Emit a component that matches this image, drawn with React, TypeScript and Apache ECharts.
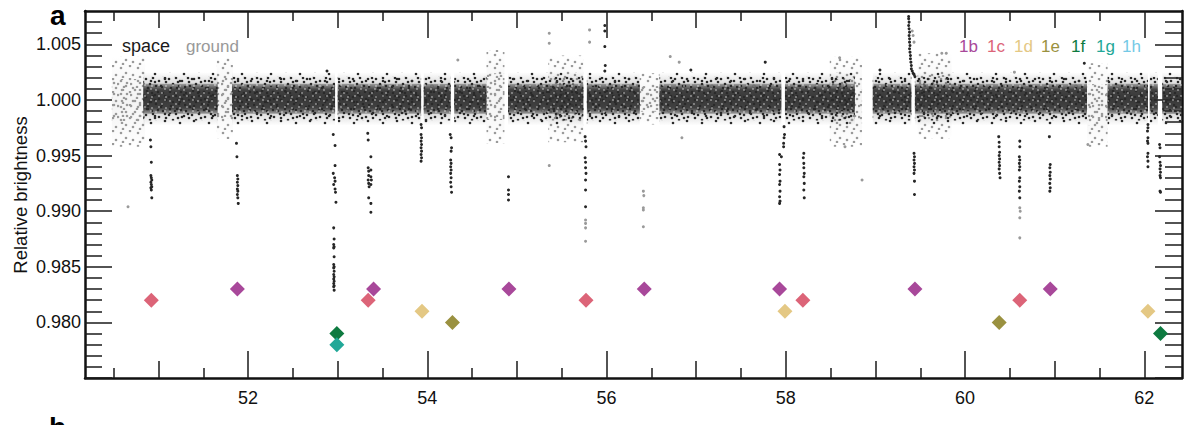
import React, { useEffect, useRef } from "react";
import * as echarts from "echarts";

// ---- axis ranges & ticks ----
const X_MIN = 50.18;
const X_MAX = 62.42;
const Y_MIN = 0.975;
const Y_MAX = 1.008;
const xLabelTicks = [52, 54, 56, 58, 60, 62];
const xMidTicks = [51, 53, 55, 57, 59, 61];
const xMinorTicks = [50.5, 51.5, 52.5, 53.5, 54.5, 55.5, 56.5, 57.5, 58.5, 59.5, 60.5, 61.5];
const yLabelTicks = [0.98, 0.985, 0.99, 0.995, 1.0, 1.005];
const yMajorTicks = [0.975, 0.98, 0.985, 0.99, 0.995, 1.0, 1.005];
const yMinorTicks = [
  0.976, 0.977, 0.978, 0.979, 0.981, 0.982, 0.983, 0.984, 0.986, 0.987, 0.988, 0.989,
  0.991, 0.992, 0.993, 0.994, 0.996, 0.997, 0.998, 0.999, 1.001, 1.002, 1.003, 1.004,
  1.006, 1.007,
];

// ---- space light-curve: time spans [xStart, xEnd] and brightness spread levels ----
const spaceSpans = [
  [50.83, 51.66], [51.82, 52.97], [53.0, 53.93], [53.96, 54.26], [54.3, 54.66],
  [54.9, 55.74], [55.78, 56.37], [56.59, 57.95], [57.99, 58.77], [58.97, 59.4],
  [59.44, 61.36], [61.59, 62.04], [62.06, 62.15], [62.2, 62.42],
];
const spaceSpreadOuter = [0.9977, 1.0025];
const spaceSpreadMid = [0.99815, 1.0021];
const spaceSpreadCore = [0.99875, 1.00145];

// ---- ground light-curve: [xStart, xEnd, low, high] ----
const groundSegments = [
  [50.48, 50.85, 0.9958, 1.0039],
  [51.65, 51.83, 0.9965, 1.0038],
  [54.66, 54.86, 0.9961, 1.0045],
  [55.35, 55.74, 0.9962, 1.004],
  [56.37, 56.59, 0.9978, 1.0024],
  [58.49, 58.85, 0.9958, 1.0039],
  [59.47, 59.85, 0.9965, 1.0042],
  [61.36, 61.59, 0.9958, 1.0033],
];

// ---- transit / flare points (space) ----
const dipB1 = [[50.91, 0.9964], [50.915, 0.9958], [50.92, 0.9944], [50.915, 0.9932], [50.92, 0.993], [50.925, 0.9928], [50.915, 0.9926], [50.92, 0.9924], [50.925, 0.9922], [50.915, 0.9921], [50.92, 0.9919], [50.925, 0.9912]];
const dipB2 = [[51.87, 0.9961], [51.875, 0.9949], [51.88, 0.9932], [51.885, 0.9929], [51.88, 0.9926], [51.885, 0.9923], [51.88, 0.992], [51.885, 0.9918], [51.88, 0.9915], [51.885, 0.9912], [51.89, 0.9907]];
const dipFG = [[52.95, 0.9969], [52.97, 0.9959], [52.97, 0.9941], [52.95, 0.9934], [52.965, 0.993], [52.97, 0.9927], [52.955, 0.9924], [52.97, 0.992], [52.975, 0.9917], [52.98, 0.9908], [52.955, 0.9885], [52.96, 0.9875], [52.955, 0.987], [52.96, 0.9868], [52.955, 0.9867], [52.96, 0.9859], [52.955, 0.9852], [52.96, 0.985], [52.955, 0.9849], [52.96, 0.9846], [52.955, 0.9843], [52.96, 0.9841], [52.955, 0.9839], [52.96, 0.9837], [52.955, 0.9835], [52.96, 0.9833], [52.955, 0.9832], [52.96, 0.9829]];
const dipBC = [[53.335, 0.997], [53.34, 0.9964], [53.37, 0.9949], [53.34, 0.9939], [53.345, 0.9936], [53.37, 0.9937], [53.345, 0.9932], [53.37, 0.9931], [53.34, 0.9928], [53.375, 0.9928], [53.345, 0.9925], [53.37, 0.9924], [53.35, 0.9922], [53.345, 0.9912], [53.37, 0.9907], [53.37, 0.9899]];
const dipD1 = [[53.93, 0.9978], [53.935, 0.9975], [53.93, 0.9969], [53.935, 0.9966], [53.93, 0.9963], [53.935, 0.996], [53.93, 0.9957], [53.935, 0.9954], [53.93, 0.9951], [53.935, 0.9948], [53.93, 0.9945]];
const dipE1 = [[54.255, 0.9969], [54.265, 0.9966], [54.27, 0.9957], [54.265, 0.9954], [54.26, 0.9946], [54.265, 0.9943], [54.26, 0.994], [54.265, 0.9937], [54.26, 0.9934], [54.265, 0.993], [54.26, 0.9926], [54.265, 0.9922], [54.27, 0.9917]];
const dipB3 = [[54.905, 0.9931], [54.905, 0.9919], [54.905, 0.9915], [54.905, 0.991]];
const dipC3 = [[55.76, 0.9967], [55.765, 0.9963], [55.77, 0.9958], [55.76, 0.9948], [55.765, 0.9944], [55.765, 0.9939], [55.77, 0.9934], [55.765, 0.9928], [55.765, 0.9919], [55.765, 0.9904]];
const dipBD = [[57.98, 0.9976], [57.985, 0.9969], [57.98, 0.9966], [57.975, 0.9961], [57.975, 0.9958], [57.93, 0.9951], [57.95, 0.9949], [57.93, 0.9942], [57.935, 0.9937], [57.93, 0.9933], [57.935, 0.9927], [57.93, 0.9924], [57.935, 0.9918], [57.93, 0.9913], [57.935, 0.9909], [57.93, 0.9907]];
const dipC4 = [[58.2, 0.9952], [58.195, 0.9948], [58.2, 0.9943], [58.2, 0.9939], [58.205, 0.9934], [58.2, 0.9931], [58.205, 0.9925], [58.2, 0.9919], [58.205, 0.9912]];
const flare = [[59.37, 1.0075], [59.37, 1.0073], [59.375, 1.007], [59.37, 1.0067], [59.375, 1.0064], [59.38, 1.0061], [59.375, 1.0058], [59.38, 1.0055], [59.38, 1.0052], [59.385, 1.0049], [59.38, 1.0046], [59.385, 1.0043], [59.39, 1.004], [59.39, 1.0037], [59.395, 1.0034], [59.4, 1.0031], [59.4, 1.0028], [59.41, 1.0026], [59.42, 1.0024], [59.43, 1.0023], [59.44, 1.0021]];
const dipB6 = [[59.43, 0.9952], [59.435, 0.9949], [59.43, 0.9946], [59.435, 0.9943], [59.43, 0.994], [59.435, 0.9937], [59.43, 0.9934], [59.435, 0.9927], [59.435, 0.9915]];
const dipE2 = [[60.375, 0.9967], [60.38, 0.9962], [60.38, 0.9958], [60.385, 0.9953], [60.38, 0.995], [60.385, 0.9947], [60.38, 0.9944], [60.385, 0.9941], [60.38, 0.9938], [60.385, 0.9934], [60.39, 0.993]];
const dipC5 = [[60.61, 0.9963], [60.61, 0.9958], [60.605, 0.9949], [60.61, 0.9946], [60.605, 0.9943], [60.61, 0.994], [60.605, 0.9937], [60.61, 0.993], [60.605, 0.9927], [60.61, 0.9922], [60.605, 0.9918], [60.61, 0.9912]];
const dipB7 = [[60.94, 0.9967], [60.95, 0.9942], [60.945, 0.9939], [60.95, 0.9935], [60.945, 0.9932], [60.95, 0.9929], [60.945, 0.9925], [60.95, 0.9921], [60.945, 0.9918]];
const dipD3 = [[62.04, 0.9978], [62.04, 0.9975], [62.035, 0.9972], [62.04, 0.9966], [62.035, 0.9963], [62.04, 0.9961], [62.04, 0.9952], [62.035, 0.9949], [62.04, 0.9945], [62.04, 0.994]];
const dipF2 = [[62.17, 0.996], [62.175, 0.9957], [62.17, 0.9949], [62.175, 0.9944], [62.18, 0.9941], [62.175, 0.9938], [62.18, 0.9935], [62.175, 0.9932], [62.18, 0.993], [62.175, 0.9918], [62.18, 0.9917]];
const spaceOutliers = [[55.98, 1.0067], [55.98, 1.0062], [55.98, 1.0048], [55.985, 1.0031], [55.98, 1.0026], [57.77, 1.0034], [56.94, 1.0027], [61.33, 1.0033], [52.88, 1.0026], [59.05, 1.0027]];

// ---- ground points outside the envelope ----
const groundPoints = [
  [55.765, 0.9892], [55.765, 0.9889], [55.765, 0.9885], [55.765, 0.9873],
  [56.41, 0.9918], [56.415, 0.9914], [56.41, 0.9903], [56.41, 0.9901], [56.41, 0.9886],
  [60.61, 0.9903], [60.615, 0.99], [60.61, 0.9894], [60.61, 0.9876],
  [50.66, 0.9904], [55.36, 0.9941], [55.36, 1.006], [55.36, 1.0051], [55.81, 1.0063], [55.81, 1.0052],
  [54.34, 1.0036], [58.85, 0.9928], [56.71, 1.0039], [56.81, 1.0034], [56.84, 0.9966], [58.6, 1.0038],
  [58.66, 0.9958], [59.74, 1.0042], [59.79, 1.0042], [60.55, 1.0025], [61.37, 0.996],
  [59.41, 1.0062], [59.42, 1.0058], [59.43, 1.0052],
];

// ---- planet transit markers ----
const planetNames = ["1b", "1c", "1d", "1e", "1f", "1g", "1h"];
const planetColors = ["#a8489a", "#dc6478", "#e4c884", "#9a9140", "#0e7a40", "#22a898", "#74c9e6"];
const transits1b = [[51.88, 0.983], [53.4, 0.983], [54.91, 0.983], [56.42, 0.983], [57.93, 0.983], [59.44, 0.983], [60.95, 0.983]];
const transits1c = [[50.92, 0.982], [53.34, 0.982], [55.77, 0.982], [58.19, 0.982], [60.61, 0.982]];
const transits1d = [[53.94, 0.981], [57.99, 0.981], [62.04, 0.981]];
const transits1e = [[54.28, 0.98], [60.38, 0.98]];
const transits1f = [[52.99, 0.979], [62.18, 0.979]];
const transits1g = [[52.99, 0.978]];
const transits1h: number[][] = [];
const planetTransits = [transits1b, transits1c, transits1d, transits1e, transits1f, transits1g, transits1h];
const planetLegendX = [959, 987, 1014, 1041, 1071, 1096, 1122];

const FONT = "'Liberation Sans', Arial, Helvetica, sans-serif";
const TICK = { color: "#1a1a1a", width: 1.5 };
const FRAME = { color: "#111", width: 2.5 };

function xAxisDef(position: string, ticks: number[], length: number, labels: boolean, line: boolean) {
  return {
    type: "value",
    position,
    min: X_MIN,
    max: X_MAX,
    axisLine: { show: line, lineStyle: FRAME, onZero: false },
    axisTick: { show: true, inside: true, length, customValues: ticks, lineStyle: TICK },
    axisLabel: labels
      ? { show: true, customValues: ticks, formatter: (v: number) => String(Math.round(v)), fontSize: 18, color: "#111", fontFamily: FONT, margin: 11 }
      : { show: false },
    splitLine: { show: false },
  };
}
function yAxisDef(position: string, ticks: number[], length: number, labels: boolean, line: boolean) {
  return {
    type: "value",
    position,
    min: Y_MIN,
    max: Y_MAX,
    axisLine: { show: line, lineStyle: FRAME, onZero: false },
    axisTick: { show: true, inside: true, length, customValues: ticks, lineStyle: TICK },
    axisLabel: labels
      ? { show: true, customValues: yLabelTicks, formatter: (v: number) => v.toFixed(3), fontSize: 18, color: "#111", fontFamily: FONT, margin: 4 }
      : { show: false },
    splitLine: { show: false },
  };
}

// texture tiles for the scattered-dot look (styling only)
function dotPattern(w: number, h: number, dots: number[][], color: string, r: number) {
  const circles = dots.map(([x, y]) => `<circle cx='${x}' cy='${y}' r='${r}' fill='${color}'/>`).join("");
  const svg = `<svg xmlns='http://www.w3.org/2000/svg' width='${w}' height='${h}'>${circles}</svg>`;
  return {
    image: "data:image/svg+xml;charset=utf-8," + encodeURIComponent(svg),
    repeat: "repeat",
    imageWidth: w,
    imageHeight: h,
  };
}
const DENSE_TILE = [[2, 3], [9, 1], [15, 6], [20, 2], [5, 10], [12, 12], [18, 14], [1, 15], [8, 7], [21, 9], [14, 3], [10, 16], [4, 6], [17, 10]];
const SPARSE_TILE = [[3, 4], [16, 2], [10, 11], [25, 8], [20, 16], [6, 18]];
const SPECK_TILE = [[2, 2], [8, 5], [5, 8], [11, 1], [12, 9]];

function fade(rgb: string, a: number) {
  return new echarts.graphic.LinearGradient(0, 0, 0, 1, [
    { offset: 0, color: `rgba(${rgb},0)` },
    { offset: 0.25, color: `rgba(${rgb},${a * 0.6})` },
    { offset: 0.5, color: `rgba(${rgb},${a})` },
    { offset: 0.75, color: `rgba(${rgb},${a * 0.6})` },
    { offset: 1, color: `rgba(${rgb},0)` },
  ]);
}
function coreFill() {
  return new echarts.graphic.LinearGradient(0, 0, 0, 1, [
    { offset: 0, color: "rgba(42,42,42,0.35)" },
    { offset: 0.2, color: "rgba(42,42,42,0.86)" },
    { offset: 0.5, color: "rgba(42,42,42,0.9)" },
    { offset: 0.8, color: "rgba(42,42,42,0.86)" },
    { offset: 1, color: "rgba(42,42,42,0.35)" },
  ]);
}

export default function App() {
  const ref = useRef<HTMLDivElement>(null);
  useEffect(() => {
    if (!ref.current) return;
    const chart = echarts.init(ref.current, null, { renderer: "svg" });
    const spacePts = [
      ...dipB1, ...dipB2, ...dipFG, ...dipBC, ...dipD1, ...dipE1, ...dipB3, ...dipC3, ...dipBD,
      ...dipC4, ...flare, ...dipB6, ...dipE2, ...dipC5, ...dipB7, ...dipD3, ...dipF2, ...spaceOutliers,
    ];
    const densePat = dotPattern(23, 18, DENSE_TILE, "#2a2a2a", 1.3);
    const sparsePat = dotPattern(29, 21, SPARSE_TILE, "#2a2a2a", 1.3);
    const speckPat = dotPattern(14, 11, SPECK_TILE, "rgba(255,255,255,0.5)", 0.9);
    const greyPat = dotPattern(17, 13, [[2, 3], [11, 1], [7, 8], [14, 10], [4, 12]], "#9a9a9a", 1.3);
    const greyPat2 = dotPattern(13, 11, [[5, 2], [1, 7], [10, 6], [7, 10]], "#9a9a9a", 1.3);

    const planetSeries = planetNames.map((name, i) => ({
      type: "scatter",
      name,
      symbol: "diamond",
      symbolSize: 15,
      z: 5,
      itemStyle: { color: planetColors[i], opacity: 1 },
      data: planetTransits[i],
    }));
    const legendTexts = planetNames.map((name, i) => ({
      type: "text",
      x: planetLegendX[i],
      y: 46.6,
      style: { text: name, fill: planetColors[i], font: `17px ${FONT}`, textAlign: "left", textVerticalAlign: "middle" },
    }));

    chart.setOption({
      animation: false,
      backgroundColor: "#fff",
      grid: { left: 85, right: 18, top: 11, bottom: 47 },
      xAxis: [
        xAxisDef("bottom", xLabelTicks, 27, true, true),
        xAxisDef("bottom", xMidTicks, 17, false, false),
        xAxisDef("bottom", xMinorTicks, 10, false, false),
        xAxisDef("top", xLabelTicks, 27, false, true),
        xAxisDef("top", xMidTicks, 17, false, false),
        xAxisDef("top", xMinorTicks, 10, false, false),
      ],
      yAxis: [
        yAxisDef("left", yMajorTicks, 27, true, true),
        yAxisDef("left", yMinorTicks, 17, false, false),
        yAxisDef("right", yMajorTicks, 27, false, true),
        yAxisDef("right", yMinorTicks, 17, false, false),
      ],
      series: [
        {
          type: "custom",
          silent: true,
          z: 1,
          clip: true,
          encode: { x: [0, 1], y: [2, 3] },
          data: groundSegments,
          renderItem: (_p: any, api: any) => {
            const a = api.coord([api.value(0), api.value(3)]);
            const b = api.coord([api.value(1), api.value(2)]);
            const h = b[1] - a[1];
            const shape = { x: a[0], y: a[1], width: b[0] - a[0], height: h };
            const inner = { x: a[0], y: a[1] + h * 0.25, width: b[0] - a[0], height: h * 0.5 };
            return {
              type: "group",
              children: [
                { type: "rect", shape, style: { fill: fade("160,160,160", 0.12) } },
                { type: "rect", shape, style: { fill: greyPat } },
                { type: "rect", shape: inner, style: { fill: greyPat2 } },
              ],
            };
          },
        },
        {
          type: "custom",
          silent: true,
          z: 2,
          clip: true,
          encode: { x: [0, 1] },
          data: spaceSpans,
          renderItem: (_p: any, api: any) => {
            const x0 = api.coord([api.value(0), 1])[0];
            const x1 = api.coord([api.value(1), 1])[0];
            const rect = (lv: number[], fill: any) => {
              const top = api.coord([api.value(0), lv[1]])[1];
              const bot = api.coord([api.value(0), lv[0]])[1];
              return { type: "rect", shape: { x: x0, y: top, width: x1 - x0, height: bot - top }, style: { fill } };
            };
            return {
              type: "group",
              children: [
                rect(spaceSpreadOuter, fade("40,40,40", 0.3)),
                rect(spaceSpreadOuter, sparsePat),
                rect(spaceSpreadMid, densePat),
                rect(spaceSpreadCore, coreFill()),
                rect(spaceSpreadCore, speckPat),
              ],
            };
          },
        },
        {
          type: "scatter",
          symbolSize: 3,
          z: 3,
          itemStyle: { color: "#9a9a9a", opacity: 1 },
          data: groundPoints,
        },
        {
          type: "scatter",
          symbolSize: 3,
          z: 4,
          itemStyle: { color: "#262626", opacity: 1 },
          data: spacePts,
        },
        ...planetSeries,
      ],
      graphic: [
        { type: "text", x: 50, y: 15, style: { text: "a", fill: "#000", font: `bold 28px ${FONT}`, textAlign: "left", textVerticalAlign: "middle" } },
        { type: "text", x: 49, y: 427.3, style: { text: "b", fill: "#000", font: `bold 28px ${FONT}`, textAlign: "left", textVerticalAlign: "middle" } },
        { type: "text", x: 122, y: 46.1, style: { text: "space", fill: "#1a1a1a", font: `18px ${FONT}`, textAlign: "left", textVerticalAlign: "middle" } },
        { type: "text", x: 186, y: 46.6, style: { text: "ground", fill: "#999", font: `17px ${FONT}`, textAlign: "left", textVerticalAlign: "middle" } },
        ...legendTexts,
        {
          type: "text",
          x: 20.6,
          y: 195,
          rotation: Math.PI / 2,
          style: { text: "Relative brightness", fill: "#111", font: `18.5px ${FONT}`, textAlign: "center", textVerticalAlign: "middle" },
        },
      ],
    });
    return () => chart.dispose();
  }, []);
  return (
    <div
      ref={ref}
      style={{ position: "fixed", left: 0, top: 0, width: 1200, height: 425, overflow: "hidden", background: "#fff" }}
    />
  );
}
